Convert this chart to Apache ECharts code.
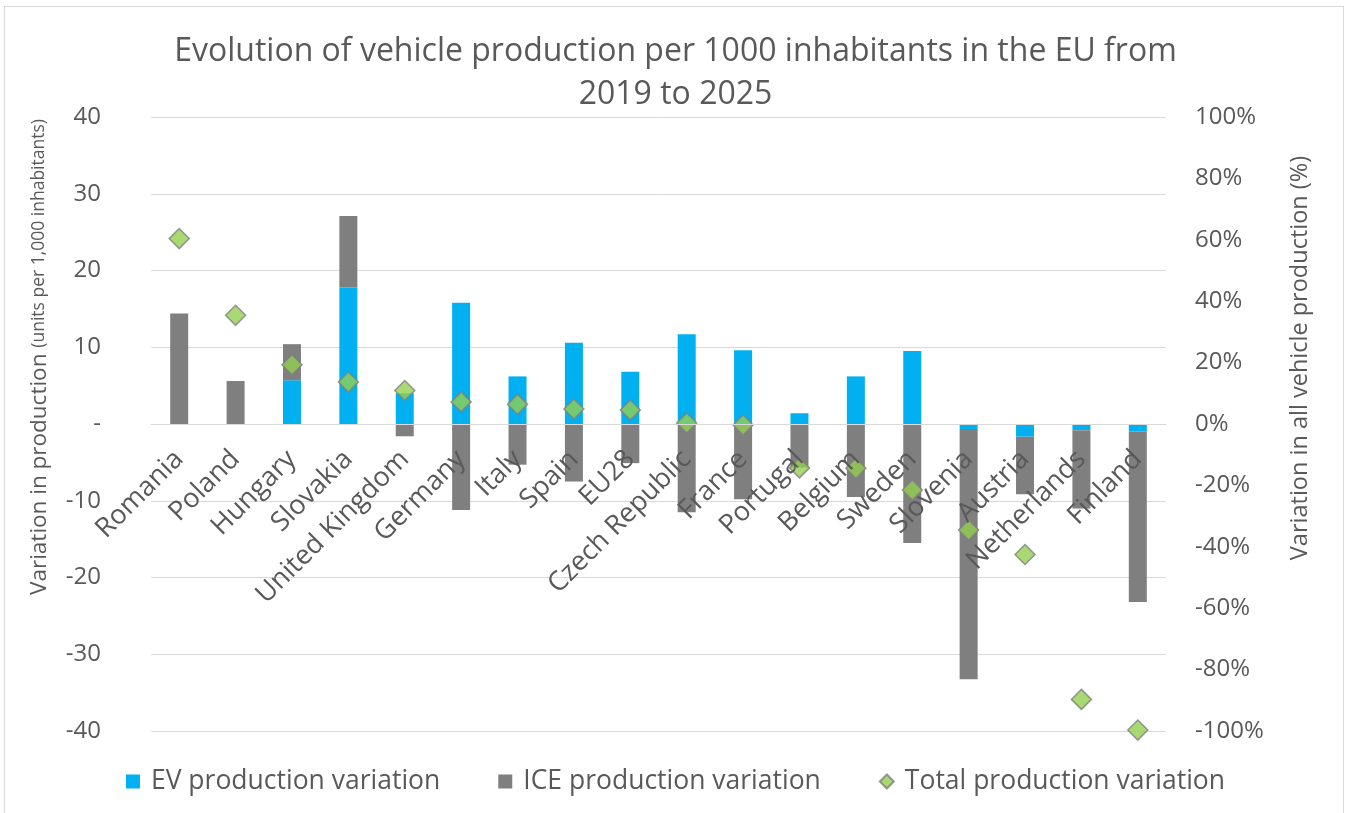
<!DOCTYPE html>
<html>
<head>
<meta charset="utf-8">
<title>Vehicle production per 1000 inhabitants</title>
<script src="https://cdn.jsdelivr.net/npm/echarts@6/dist/echarts.min.js"></script>
<style>
  html, body { margin: 0; padding: 0; background: #fff; }
  #frame { position: absolute; left: 4px; top: 6px; width: 1340px; height: 810px; border: 1px solid #d9d9d9; box-sizing: border-box; }
  #main { position: absolute; left: 0; top: 0; width: 1351px; height: 813px; }
</style>
</head>
<body>
<div id="frame"></div>
<div id="main"></div>
<script>
// categories, left to right
var countries = ['Romania', 'Poland', 'Hungary', 'Slovakia', 'United Kingdom', 'Germany', 'Italy', 'Spain', 'EU28',
  'Czech Republic', 'France', 'Portugal', 'Belgium', 'Sweden', 'Slovenia', 'Austria', 'Netherlands', 'Finland'];
// units per 1,000 inhabitants
var evVariation = [0, 0, 5.7, 17.8, 4.0, 15.8, 6.2, 10.6, 6.8, 11.7, 9.6, 1.4, 6.2, 9.5, -0.65, -1.65, -0.8, -1.0];
var iceVariation = [14.4, 5.6, 4.7, 9.3, -1.6, -11.2, -5.3, -7.5, -5.1, -11.5, -9.8, -5.7, -9.5, -15.5, -32.6, -7.5, -10.2, -22.2];
// % change of all vehicle production
var totalVariation = [60.4, 35.4, 19.3, 13.7, 10.9, 7.2, 6.4, 4.9, 4.6, 0.3, -0.3, -14.3, -14.4, -21.5, -34.5, -42.5, -89.7, -99.7];

var txt = '#595959';
var font = '"Open Sans", "DejaVu Sans", sans-serif';

// plot box (Excel plot area)
var gridTop = 117, gridBottom = 82, chartH = 813;
var plotH = chartH - gridTop - gridBottom;
// category axis sits on the zero line, i.e. half way up the -40..40 axis
var zeroOffset = -plotH / 2;

var chart = echarts.init(document.getElementById('main'));
chart.setOption({
  animation: false,
  textStyle: { fontFamily: font, color: txt },
  title: {
    text: 'Evolution of vehicle production per 1000 inhabitants in the EU from\n2019 to 2025',
    left: 'center',
    top: 25,
    textStyle: { fontFamily: font, fontSize: 32, fontWeight: 'normal', color: txt, lineHeight: 43 }
  },
  grid: { left: 151, right: 185, top: gridTop, bottom: gridBottom, outerBoundsMode: 'none', containLabel: false },
  legend: {
    bottom: 13,
    left: 'center',
    itemWidth: 14,
    itemHeight: 14,
    itemGap: 58,
    textStyle: { fontFamily: font, fontSize: 26.5, color: txt, padding: [0, 0, 0, 6] },
    data: [
      { name: 'EV production variation', icon: 'rect' },
      { name: 'ICE production variation', icon: 'rect' },
      { name: 'Total production variation', icon: 'diamond' }
    ]
  },
  xAxis: {
    type: 'category',
    data: countries,
    z: 10,
    position: 'bottom',
    offset: zeroOffset,
    axisLine: { onZero: false, lineStyle: { color: '#d9d9d9' } },
    axisTick: { show: false },
    axisLabel: { rotate: 45, interval: 0, fontSize: 27, color: txt, margin: 31 }
  },
  yAxis: [{
    type: 'value',
    min: -40, max: 40, interval: 10,
    name: '{a|Variation in production }{b|(units per 1,000 inhabitants)}',
    nameLocation: 'middle',
    nameRotate: 90,
    nameGap: 100,
    nameTextStyle: {
      padding: [0, 0, 0, 134],
      rich: {
        a: { fontFamily: font, fontSize: 22.5, color: txt },
        b: { fontFamily: font, fontSize: 17.5, color: txt }
      }
    },
    axisLine: { show: false },
    axisTick: { show: false },
    splitLine: { lineStyle: { color: '#d9d9d9' } },
    axisLabel: {
      fontSize: 24, color: txt, margin: 50,
      formatter: function (v) { return v === 0 ? '-' : v; }
    }
  }, {
    type: 'value',
    min: -100, max: 100, interval: 20,
    position: 'right',
    name: 'Variation in all vehicle production (%)',
    nameLocation: 'middle',
    nameRotate: 90,
    nameGap: 122,
    nameTextStyle: { fontFamily: font, fontSize: 23.5, color: txt, padding: [0, 0, 0, 132] },
    axisLine: { show: false },
    axisTick: { show: false },
    splitLine: { show: false },
    axisLabel: { fontSize: 24, color: txt, margin: 29, formatter: '{value}%' }
  }],
  series: [{
    name: 'EV production variation',
    type: 'bar',
    stack: 'prod',
    barWidth: 18,
    itemStyle: { color: '#00b0f0' },
    data: evVariation
  }, {
    name: 'ICE production variation',
    type: 'bar',
    stack: 'prod',
    barWidth: 18,
    itemStyle: { color: '#7f7f7f' },
    data: iceVariation
  }, {
    name: 'Total production variation',
    type: 'scatter',
    yAxisIndex: 1,
    symbol: 'diamond',
    symbolSize: [20, 20],
    itemStyle: { color: '#92d050', borderColor: '#7f7f7f', borderWidth: 1.5 },
    data: totalVariation
  }]
});
</script>
</body>
</html>
